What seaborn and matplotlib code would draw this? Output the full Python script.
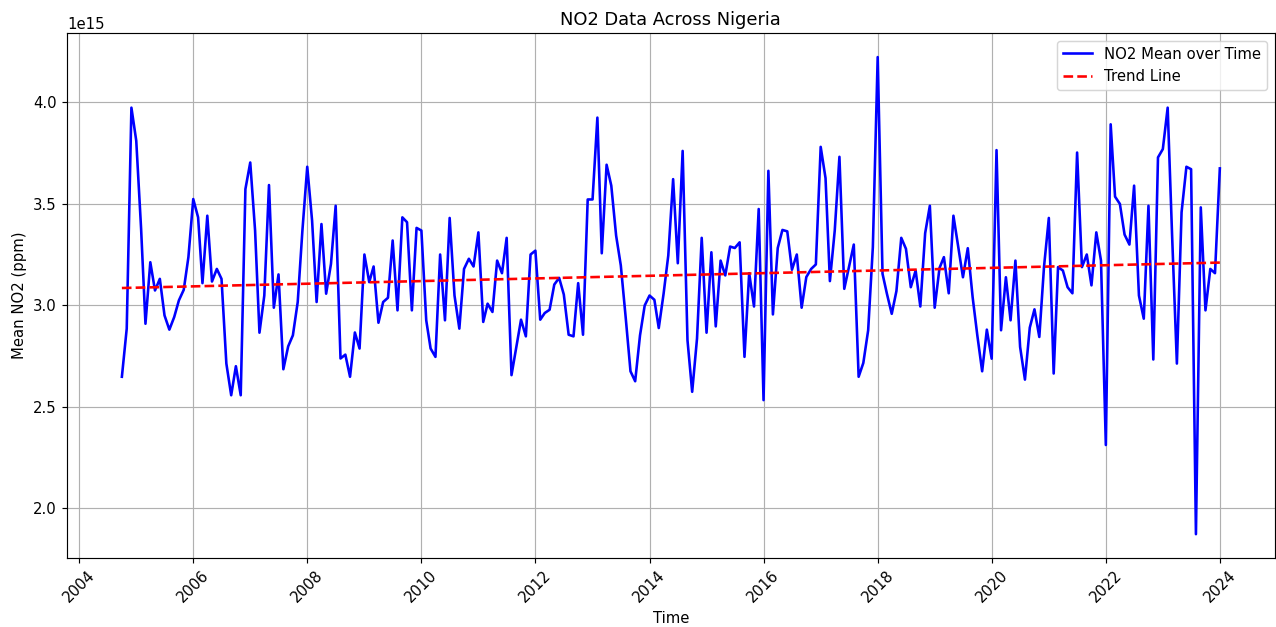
import numpy as np
import pandas as pd
import matplotlib
matplotlib.use("Agg")
import matplotlib.pyplot as plt
import matplotlib.dates as mdates
import seaborn as sns

plt.rcParams["font.size"] = 10.3

# monthly NO2 means, Oct 2004 .. Jan 2024 (units of 1e15)
no2_2004_2007 = [
    2.647, 2.884, 3.972, 3.809, 3.376, 2.908, 3.211, 3.072, 3.129, 2.949,
    2.879, 2.941, 3.023, 3.075, 3.236, 3.522, 3.432, 3.108, 3.440, 3.116,
    3.178, 3.129, 2.712, 2.556, 2.699, 2.556, 3.571, 3.702, 3.367, 2.864,
    3.047, 3.591, 2.987, 3.151, 2.684, 2.797, 2.851, 3.015, 3.367,
]
no2_2008_2011 = [
    3.681, 3.416, 3.015, 3.399, 3.056, 3.203, 3.489, 2.737, 2.756, 2.647,
    2.865, 2.786, 3.249, 3.113, 3.190, 2.913, 3.015, 3.036, 3.318, 2.974,
    3.432, 3.408, 2.974, 3.380, 3.367, 2.925, 2.786, 2.745, 3.249, 2.925,
    3.429, 3.047, 2.884, 3.178, 3.228, 3.190, 3.358, 2.917, 3.007, 2.966,
    3.219, 3.157, 3.331, 2.655, 2.794, 2.928, 2.846, 3.249,
]
no2_2012_2015 = [
    3.268, 2.928, 2.961, 2.977, 3.101, 3.134, 3.052, 2.854, 2.846, 3.108,
    2.854, 3.520, 3.520, 3.923, 3.255, 3.691, 3.588, 3.342, 3.195, 2.941,
    2.674, 2.625, 2.851, 2.998, 3.047, 3.026, 2.887, 3.056, 3.244, 3.620,
    3.206, 3.759, 2.827, 2.573, 2.835, 3.331, 2.864, 3.260, 2.895, 3.219,
    3.146, 3.288, 3.281, 3.309, 2.745, 3.157, 2.993, 3.473,
]
no2_2016_2019 = [
    2.532, 3.661, 2.954, 3.281, 3.370, 3.363, 3.174, 3.249, 2.987, 3.138,
    3.178, 3.200, 3.779, 3.625, 3.118, 3.367, 3.730, 3.080, 3.187, 3.298,
    2.647, 2.715, 2.876, 3.285, 4.221, 3.154, 3.056, 2.957, 3.069, 3.331,
    3.277, 3.088, 3.170, 2.993, 3.354, 3.489, 2.987, 3.183, 3.236, 3.058,
    3.440, 3.287, 3.137, 3.280, 3.039, 2.851, 2.674, 2.879,
]
no2_2020_2024 = [
    2.736, 3.763, 2.876, 3.137, 2.925, 3.219, 2.794, 2.633, 2.889, 2.979,
    2.843, 3.187, 3.429, 2.663, 3.187, 3.170, 3.088, 3.058, 3.751, 3.187,
    3.249, 3.097, 3.358, 3.219, 2.311, 3.890, 3.534, 3.498, 3.347, 3.298,
    3.588, 3.047, 2.933, 3.489, 2.732, 3.727, 3.768, 3.972, 3.350, 2.712,
    3.457, 3.681, 3.669, 1.872, 3.481, 2.974, 3.178, 3.157, 3.673,
]

values = np.array(no2_2004_2007 + no2_2008_2011 + no2_2012_2015
                  + no2_2016_2019 + no2_2020_2024) * 1e15
dates = pd.date_range("2004-10-01", periods=len(values), freq="MS")

# linear trend
idx = np.arange(len(values))
coef = np.polyfit(idx, values, 1)
trend = np.polyval(coef, idx)

fig, ax = plt.subplots(figsize=(1276 / 104, 627 / 104), dpi=104)

sns.lineplot(x=dates, y=values, color="blue", linewidth=1.8,
             label="NO2 Mean over Time", ax=ax)
sns.lineplot(x=dates, y=trend, color="red", linestyle="--", linewidth=1.8,
             label="Trend Line", ax=ax)

ax.xaxis.set_major_locator(mdates.YearLocator(2))
ax.xaxis.set_major_formatter(mdates.DateFormatter("%Y"))

ax.set_title("NO2 Data Across Nigeria")
ax.set_xlabel("Time")
ax.set_ylabel("Mean NO2 (ppm)")
ax.grid(True)
ax.legend(loc="upper right")
plt.xticks(rotation=45)

plt.subplots_adjust(left=0.0525, right=0.999, top=0.947, bottom=0.110)
plt.savefig("out.png", dpi=104)
plt.close()
